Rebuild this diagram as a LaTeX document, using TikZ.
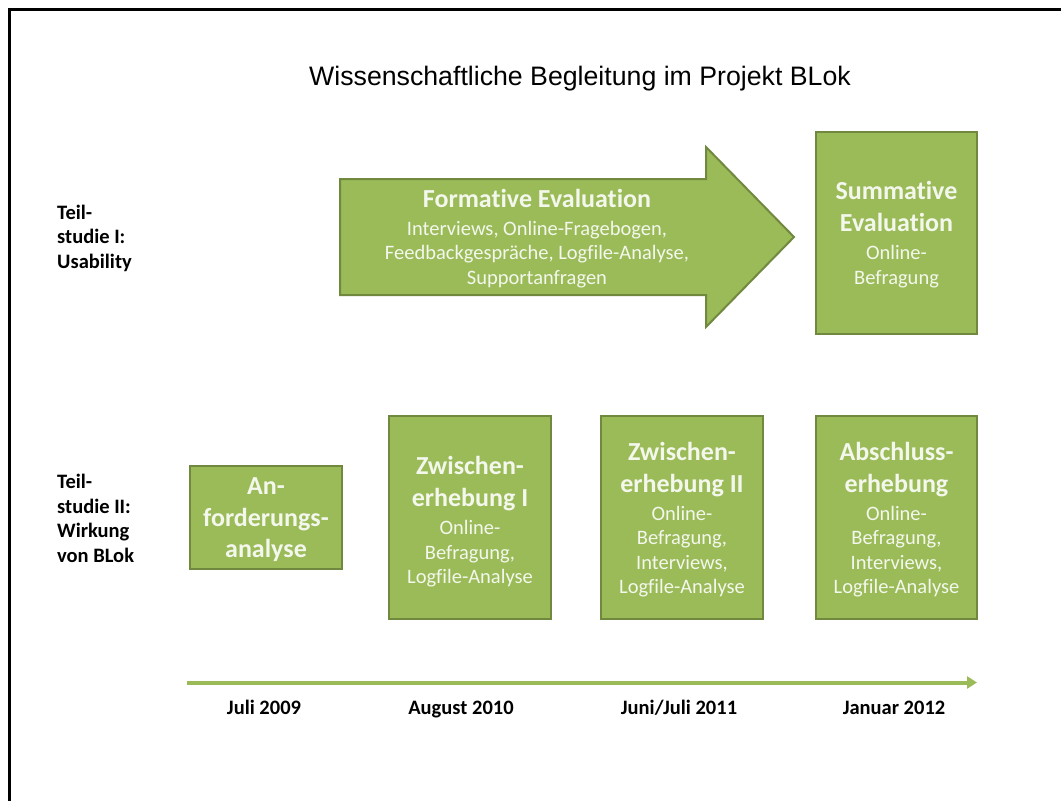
\documentclass[tikz,border=0pt]{standalone}
\usepackage{fontspec}
\setmainfont{Carlito}[Ligatures=NoCommon]
\newfontfamily\titlefont{Liberation Sans}
\usetikzlibrary{arrows.meta}

\definecolor{leaf}{HTML}{9BBB59}
\definecolor{leafedge}{HTML}{71893F}
\definecolor{paletext}{HTML}{F3F7EC}

\newcommand{\headfont}{\fontsize{26}{31}\selectfont\bfseries}
\newcommand{\subfont}{\fontsize{20.5}{24.5}\selectfont\mdseries}
% strut that lowers a centred text block a little
\newcommand{\topstrut}[1]{\rule{0pt}{#1}}

\tikzset{
  phasebox/.style={draw=leafedge, line width=2pt, fill=leaf, text=paletext,
    align=center, inner sep=0pt, font=\subfont},
  phaselabel/.style={anchor=west, align=left, inner sep=0pt,
    font=\fontsize{20.5}{24.5}\selectfont\bfseries},
  datelabel/.style={anchor=base, inner sep=0pt, font=\fontsize{20.5}{24}\selectfont\bfseries},
}

\begin{document}
\begin{tikzpicture}[x=1pt, y=-1pt]
  \useasboundingbox (0,0) rectangle (1061,801);
  \fill[white] (0,0) rectangle (1061,801);

  % page frame (left and top edges)
  \draw[line width=3pt] (9.5,815) -- (9.5,9.5) -- (1075,9.5);

  % title
  \node[font=\titlefont\fontsize{26.7}{30}\selectfont, inner sep=0pt] (title) at (580,79)
    {Wissenschaftliche Begleitung im Projekt BLok};

  % row labels
  \node[phaselabel] (studyI) at (57,238) {Teil-\\studie I:\\Usability};
  \node[phaselabel] (studyII) at (57,518.5) {Teil-\\studie II:\\Wirkung\\von BLok};

  % formative evaluation arrow
  \draw[draw=leafedge, line width=2pt, fill=leaf]
    (340,179) -- (706,179) -- (706,147) -- (794,237) -- (706,327)
    -- (706,295) -- (340,295) -- cycle;
  \node[text=paletext, align=center, inner sep=0pt, font=\subfont] (formative) at (537,238.5)
    {{\headfont Formative Evaluation}\\[3.5pt]
     Interviews, Online-Fragebogen,\\
     Feedbackgespräche, Logfile-Analyse,\\
     Supportanfragen};

  % summative evaluation box
  \node[phasebox, minimum width=161pt, minimum height=202pt] (summative) at (896.5,233)
    {{\headfont\topstrut{22pt}Summative}\\[7.5pt]{\headfont Evaluation}\\[3.5pt]
     Online-\\Befragung};

  % surveys of study II
  \node[phasebox, minimum width=152pt, minimum height=103pt] (anforderung) at (266,517.5)
    {{\headfont\topstrut{22pt}An-}\\[7pt]{\headfont forderungs-}\\[7pt]{\headfont analyse}};

  \node[phasebox, minimum width=162pt, minimum height=203pt] (zwischenI) at (470,517.5)
    {{\headfont\topstrut{27pt}Zwischen-}\\[7.5pt]{\headfont erhebung I}\\[3.5pt]
     Online-\\Befragung,\\Logfile-Analyse};

  \node[phasebox, minimum width=162pt, minimum height=203pt] (zwischenII) at (682,517.5)
    {{\headfont\topstrut{23pt}Zwischen-}\\[7.5pt]{\headfont erhebung II}\\[3.5pt]
     Online-\\Befragung,\\Interviews,\\Logfile-Analyse};

  \node[phasebox, minimum width=161pt, minimum height=203pt] (abschluss) at (896.5,517.5)
    {{\headfont\topstrut{23pt}Abschluss-}\\[7.5pt]{\headfont erhebung}\\[3.5pt]
     Online-\\Befragung,\\Interviews,\\Logfile-Analyse};

  % time axis
  \coordinate (tstart) at (187,682.5);
  \coordinate (tend) at (977,682.5);
  \draw[leaf, line width=4pt, -{Triangle[length=10pt, width=12pt]}] (tstart) -- (tend);

  \node[datelabel] (d2009) at (264,714.5) {Juli 2009};
  \node[datelabel] (d2010) at (461,714.5) {August 2010};
  \node[datelabel] (d2011) at (679,714.5) {Juni/Juli 2011};
  \node[datelabel] (d2012) at (894,714.5) {Januar 2012};
\end{tikzpicture}
\end{document}
